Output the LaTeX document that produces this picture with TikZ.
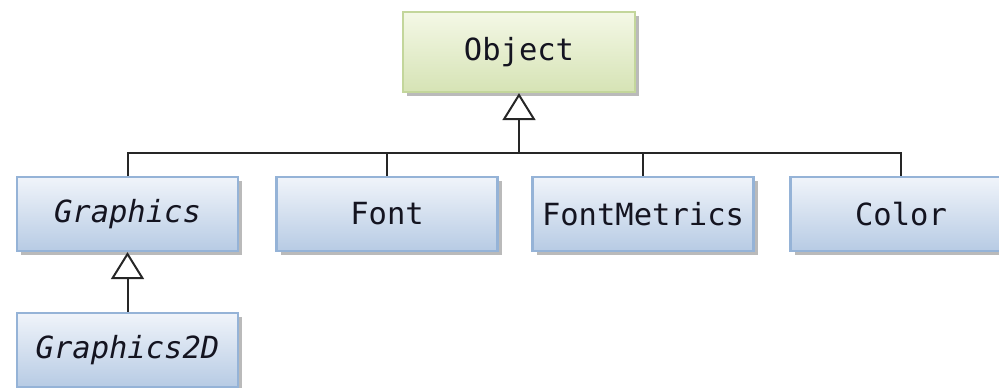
\documentclass[tikz,border=0pt]{standalone}
\usepackage{fontspec}
\setmonofont{DejaVu Sans Mono}
\usetikzlibrary{arrows.meta,shadows}
\definecolor{txt}{HTML}{141420}
\definecolor{gtop}{HTML}{F4F8E6}
\definecolor{gbot}{HTML}{D6E3B5}
\definecolor{gborder}{HTML}{C3D69B}
\definecolor{btop}{HTML}{F0F4FA}
\definecolor{bbot}{HTML}{B7CBE4}
\definecolor{bborder}{HTML}{95B3D7}
\tikzset{
  cls/.style={draw=bborder, line width=2.2pt, top color=btop, bottom color=bbot,
    minimum width=221pt, minimum height=74pt, inner sep=0pt,
    font=\fontsize{30.5}{32}\selectfont\ttfamily, text=txt,
    drop shadow={shadow xshift=4pt, shadow yshift=-4pt, fill=black!45, opacity=0.6}},
  rootcls/.style={cls, draw=gborder, top color=gtop, bottom color=gbot,
    minimum width=232pt, minimum height=80pt},
  conn/.style={line width=2pt, draw=black!85},
  inherit/.style={conn, -{Triangle[open, length=27pt, width=33pt, line width=2pt]}}
}
\begin{document}
\begin{tikzpicture}[x=1pt,y=1pt]
\useasboundingbox (0,0) rectangle (999,-388);
\node[rootcls] (obj) at (519,-52) {Object};
\node[cls] (gr) at (127.5,-214) {\itshape Graphics};
\node[cls] (fo) at (387,-214) {Font};
\node[cls] (fm) at (643,-214) {FontMetrics};
\node[cls] (co) at (901,-214) {Color};
\node[cls] (g2) at (127.5,-350) {\itshape Graphics2D};
\coordinate (bus) at (519,-153);
\draw[inherit] (bus) -- (obj.south);
\draw[conn] (gr.north) -- (gr.north |- bus) -- (co.north |- bus) -- (co.north);
\draw[conn] (fo.north) -- (fo.north |- bus);
\draw[conn] (fm.north) -- (fm.north |- bus);
\draw[inherit] (g2.north) -- (gr.south);
\end{tikzpicture}
\end{document}
